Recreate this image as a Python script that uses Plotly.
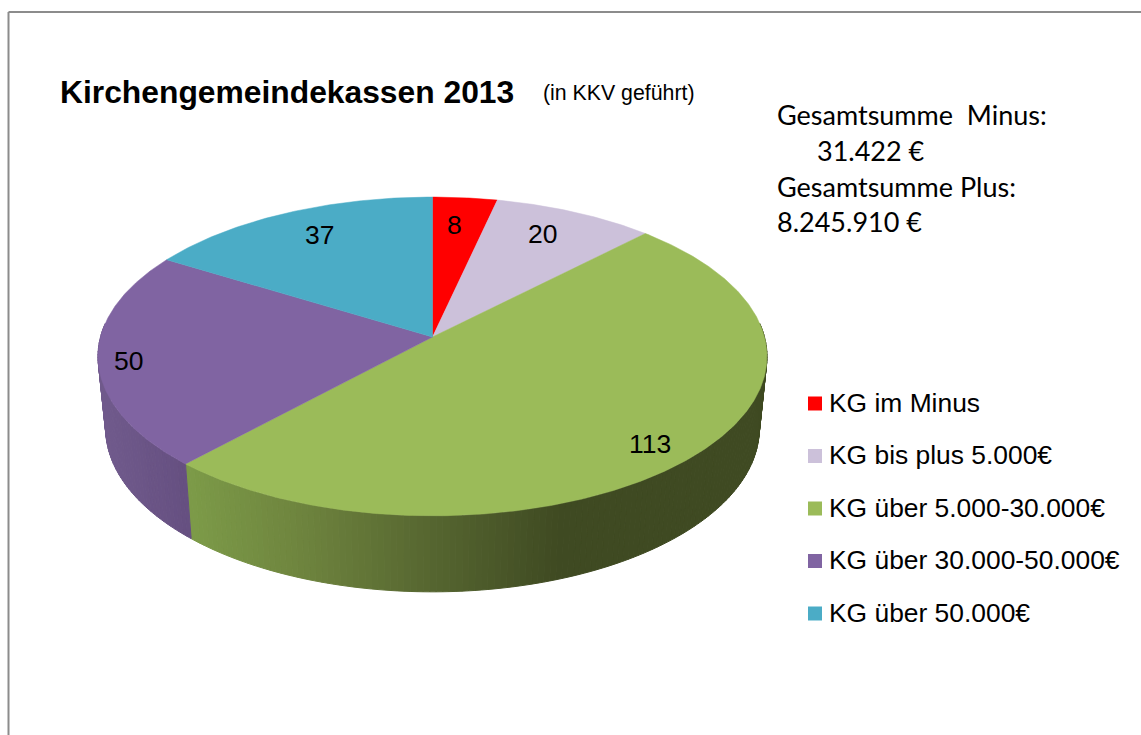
import math
import numpy as np
import plotly.graph_objects as go

# ---- data ----
categories = ["KG im Minus", "KG bis plus 5.000€", "KG über 5.000-30.000€",
              "KG über 30.000-50.000€", "KG über 50.000€"]
values = [8, 20, 113, 50, 37]
colors = ["#ff0000", "#ccc1da", "#9bbb59", "#8064a2", "#4bacc6"]
title_text = "Kirchengemeindekassen 2013"
subtitle_text = "(in KKV geführt)"
note_lines = ["Gesamtsumme\u00a0\u00a0Minus:", "31.422 €", "Gesamtsumme Plus:", "8.245.910 €"]

# ---- styling / geometry of the drawing ----
W, H = 1141, 735
CX, CY, RX, RY, PERSP = 432.5, 337.0, 332.0, 157.0, 0.122
DEPTH, WALL_X, WALL_Y = 72.0, 0.977, 0.025
MID_Y = 355.0
label_radius = [0.80, 0.80, 0.87, 0.91, 0.80]
label_shift_x = [-4, -4, -11, 0, 4]
label_shift_y = [-1, -3, 5, 4, -3]
green_stops = [(190, (124, 154, 72)), (300, (110, 132, 62)), (430, (86, 102, 48)), (560, (63, 74, 34)), (800, (63, 74, 34))]
purple_stops = [(100, (112, 90, 140)), (190, (101, 79, 128))]
wall_colors = {2: green_stops, 3: purple_stops}
LEGEND_X, LEGEND_Y, LEGEND_STEP = 815, 403.5, 52.5
FRAME = "#8c8c8c"


def project(theta, r=1.0):
    d = 1 + PERSP * math.cos(theta)
    return CX + r * RX * math.sin(theta) / d, CY - r * RY * math.cos(theta) / d


def lower(x, y):
    return CX + WALL_X * (x - CX), y + DEPTH + WALL_Y * (y - MID_Y)


def shade(stops, x):
    xs = [s[0] for s in stops]
    rgb = [float(np.interp(x, xs, [s[1][i] for s in stops])) for i in range(3)]
    return "rgb(%d,%d,%d)" % tuple(round(c) for c in rgb)


total = sum(values)
edges = np.cumsum([0] + values) / total * 2 * math.pi
fig = go.Figure()

# side wall of the front slices
for i, stops in wall_colors.items():
    a0 = max(edges[i], math.radians(85))
    a1 = min(edges[i + 1], math.radians(275))
    n = max(2, int((a1 - a0) / math.radians(1.0)))
    ts = np.linspace(a0, a1, n + 1)
    for t0, t1 in zip(ts[:-1], ts[1:]):
        p0, p1 = project(t0), project(t1)
        q0, q1 = lower(*p0), lower(*p1)
        col = shade(stops, (p0[0] + p1[0]) / 2)
        fig.add_trace(go.Scatter(
            x=[p0[0], p1[0], q1[0], q0[0], p0[0]], y=[p0[1], p1[1], q1[1], q0[1], p0[1]],
            mode="lines", fill="toself", fillcolor=col, line=dict(color=col, width=1),
            hoverinfo="skip", showlegend=False))

# top faces
for i, (name, value, col) in enumerate(zip(categories, values, colors)):
    ts = np.linspace(edges[i], edges[i + 1], max(8, value * 3))
    pts = [project(t) for t in ts]
    xs = [CX] + [p[0] for p in pts] + [CX]
    ys = [CY] + [p[1] for p in pts] + [CY]
    fig.add_trace(go.Scatter(x=xs, y=ys, mode="lines", fill="toself", fillcolor=col,
                             line=dict(color=col, width=0.5), name=name, text=str(value),
                             hoverinfo="text+name", showlegend=False))

# value labels
for i, value in enumerate(values):
    lx, ly = project((edges[i] + edges[i + 1]) / 2, label_radius[i])
    fig.add_annotation(x=lx + label_shift_x[i], y=ly + label_shift_y[i], text=str(value), showarrow=False,
                       font=dict(family="Liberation Sans", size=26.5, color="#000000"))

# legend
for i, (name, col) in enumerate(zip(categories, colors)):
    ly = LEGEND_Y + i * LEGEND_STEP
    fig.add_trace(go.Scatter(x=[LEGEND_X], y=[ly], mode="markers",
                             marker=dict(symbol="square", size=14, color=col, line=dict(width=0)),
                             name=name, hoverinfo="name", showlegend=False))
    fig.add_annotation(x=827, y=ly - 1, text=name, showarrow=False, xanchor="left", yanchor="middle",
                       font=dict(family="Liberation Sans", size=26.4, color="#000000"))

# title
fig.add_annotation(x=58, y=92, text="<b>%s</b>" % title_text, showarrow=False, xanchor="left",
                   font=dict(family="Liberation Sans", size=31.8, color="#000000"))
fig.add_annotation(x=541, y=93, text=subtitle_text, showarrow=False, xanchor="left",
                   font=dict(family="Liberation Sans", size=21.3, color="#000000"))

# note
note_x = [775, 815, 775, 775]
note_y = [114, 150, 186, 221]
for t, nx, ny in zip(note_lines, note_x, note_y):
    fig.add_annotation(x=nx, y=ny, text=t, showarrow=False, xanchor="left",
                       font=dict(family="Lato", size=27, color="#000000"))

# outer frame (top and left edges only reach the picture)
fig.add_shape(type="line", x0=8.5, x1=W, y0=12, y1=12, line=dict(color=FRAME, width=2))
fig.add_shape(type="line", x0=8.5, x1=8.5, y0=12, y1=H, line=dict(color=FRAME, width=2))

fig.update_layout(
    width=W, height=H, autosize=False, margin=dict(l=0, r=0, t=0, b=0),
    paper_bgcolor="white", plot_bgcolor="white", showlegend=False,
    xaxis=dict(range=[0, W], visible=False, fixedrange=True),
    yaxis=dict(range=[H, 0], visible=False, fixedrange=True),
)
fig.write_html("out.html", config={"displayModeBar": False},
               post_script="document.body.style.margin='0';document.body.style.overflow='hidden';")
